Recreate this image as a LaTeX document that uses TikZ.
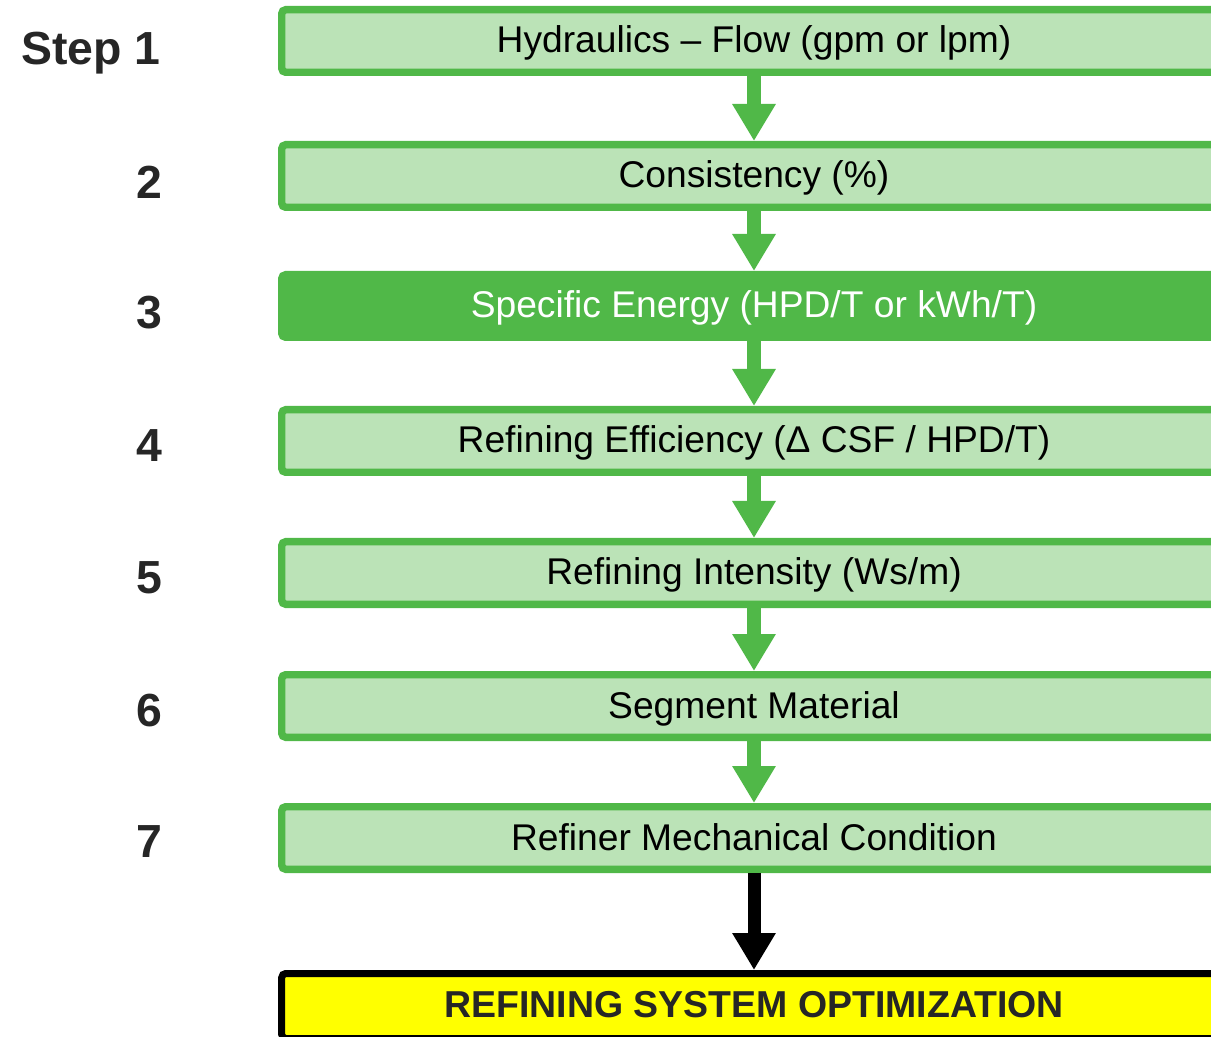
\documentclass[tikz,border=0pt]{standalone}
\usepackage{fontspec}
\setmainfont{Liberation Sans}
\usetikzlibrary{arrows.meta}
\definecolor{gborder}{RGB}{80,184,72}
\definecolor{gfill}{RGB}{187,227,183}
\definecolor{txt}{RGB}{38,38,38}
\definecolor{yel}{RGB}{255,255,0}
\begin{document}
\begin{tikzpicture}[x=0.75pt,y=-0.75pt,
 stepbox/.style={draw=gborder, fill=gfill, line width=5.6pt, rounded corners=3pt,
   minimum width=708.4pt, minimum height=46.9pt, inner sep=0pt,
   text height=20pt, text depth=2pt,
   font=\fontsize{27.9}{30}\selectfont, text=black},
 hotbox/.style={stepbox, fill=gborder, text=white},
 endbox/.style={stepbox, draw=black, fill=yel, text=txt, text height=19.5pt, text depth=3pt,
   font=\fontsize{28.1}{30}\selectfont\bfseries, line width=5.25pt, minimum height=48.75pt},
 steplbl/.style={anchor=base east, inner sep=0pt, text=txt, font=\fontsize{34.8}{40}\selectfont\bfseries},
 flow/.style={draw=gborder, line width=10.5pt, -{Triangle[width=30.75pt,length=27.75pt]}},
 finalflow/.style={flow, draw=black, line width=9.75pt}
]
\useasboundingbox (0,0) rectangle (1211,1037);
\clip (0,0) rectangle (1211,1037);

\node[stepbox] (b1) at (754,41) {Hydraulics – Flow (gpm or lpm)};
\node[stepbox] (b2) at (754,176) {Consistency (\%)};
\node[hotbox]  (b3) at (754,306) {Specific Energy (HPD/T or kWh/T)};
\node[stepbox] (b4) at (754,441) {Refining Efficiency (Δ CSF / HPD/T)};
\node[stepbox] (b5) at (754,573) {Refining Intensity (Ws/m)};
\node[stepbox] (b6) at (754,706) {Segment Material};
\node[stepbox] (b7) at (754,838) {Refiner Mechanical Condition};
\node[endbox]  (b8) at (754,1006) {REFINING SYSTEM OPTIMIZATION};

\draw[flow] (b1.south) -- (b2.north);
\draw[flow] (b2.south) -- (b3.north);
\draw[flow] (b3.south) -- (b4.north);
\draw[flow] (b4.south) -- (b5.north);
\draw[flow] (b5.south) -- (b6.north);
\draw[flow] (b6.south) -- (b7.north);
\draw[finalflow] (b7.south) -- (b8.north);

\node[steplbl] (s1) at (161,65) {Step 1};
\node[steplbl] (s2) at (163,199) {2};
\node[steplbl] (s3) at (163,329) {3};
\node[steplbl] (s4) at (163,462) {4};
\node[steplbl] (s5) at (163,594) {5};
\node[steplbl] (s6) at (163,726) {6};
\node[steplbl] (s7) at (163,857) {7};
\end{tikzpicture}
\end{document}
